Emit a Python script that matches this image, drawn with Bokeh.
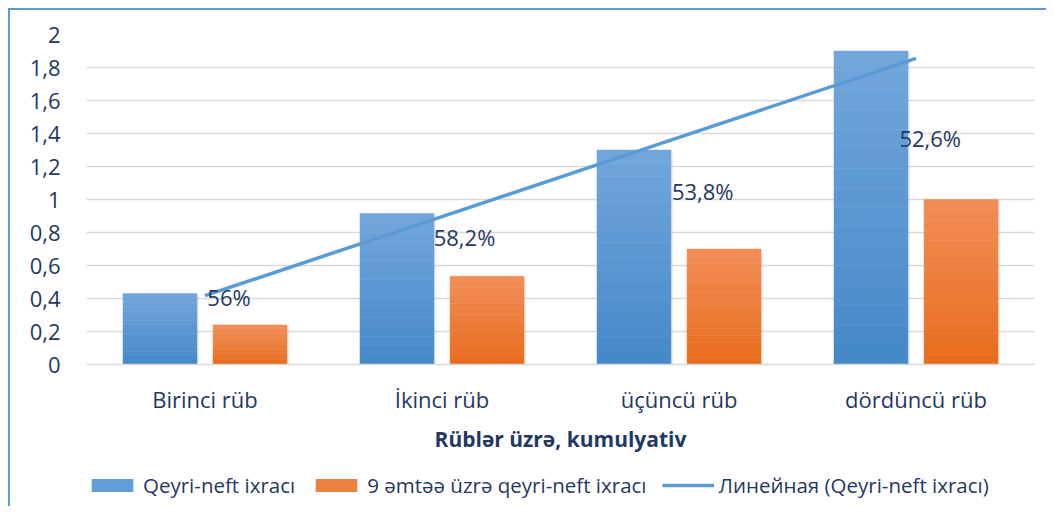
import numpy as np
from bokeh.plotting import figure
from bokeh.layouts import column
from bokeh.models import Range1d, FixedTicker, Legend, LegendItem, ColumnDataSource
from bokeh.core.properties import value
from bokeh.embed import file_html
from bokeh.resources import INLINE

categories = ["Birinci rüb", "İkinci rüb", "üçüncü rüb", "dördüncü rüb"]
qeyri_neft = [0.43, 0.915, 1.30, 1.90]
emtee9 = [0.24, 0.535, 0.70, 1.00]
share_labels = ["56%", "58,2%", "53,8%", "52,6%"]
label_y = [0.41, 0.77, 1.05, 1.37]
label_dx = [0.01, -0.035, -0.03, -0.07]
y_ticks = [0, 0.2, 0.4, 0.6, 0.8, 1.0, 1.2, 1.4, 1.6, 1.8, 2.0]
y_tick_labels = ["0", "0,2", "0,4", "0,6", "0,8", "1", "1,2", "1,4", "1,6", "1,8", "2"]
series_names = ["Qeyri-neft ixracı", "9 əmtəə üzrə qeyri-neft ixracı", "Линейная (Qeyri-neft ixracı)"]
axis_title = "Rüblər üzrə, kumulyativ"

FONT = "Open Sans"
TXT = "#1F3864"
BLUE = "#5B9BD5"
ORANGE = "#ED7D31"

p = figure(width=1036, height=450, output_backend="svg", toolbar_location=None,
           x_range=Range1d(0, 4), y_range=Range1d(0, 2),
           min_border_left=76, min_border_right=12, min_border_top=24, min_border_bottom=96)
p.outline_line_color = None
p.background_fill_color = "white"
p.border_fill_color = "white"

xc = np.arange(len(categories)) + 0.5

def interp(c1, c2, t):
    a = [int(c1[i:i + 2], 16) for i in (1, 3, 5)]
    b = [int(c2[i:i + 2], 16) for i in (1, 3, 5)]
    return "#%02x%02x%02x" % tuple(int(round(a[k] + (b[k] - a[k]) * t)) for k in range(3))

N = 16
width = 0.312
def gradient_bars(vals, offset, ctop, cbot):
    rends = []
    vals = np.array(vals)
    for i in range(N):
        src = ColumnDataSource(dict(x=xc + offset, bottom=vals * i / N, top=vals * (i + 1) / N))
        col = interp(cbot, ctop, (i + 0.5) / N)
        r = p.vbar(x="x", bottom="bottom", top="top", width=width, source=src,
                   fill_color=col, line_color=col, line_width=0.5)
        rends.append(r)
    return rends

# subtle shadows
for vals, off in ((qeyri_neft, -0.19), (emtee9, 0.19)):
    p.vbar(x=xc + off + 0.008, top=np.array(vals) - 0.006, bottom=0, width=width,
           fill_color="#bfbfbf", fill_alpha=0.35, line_color=None)

blue = gradient_bars(qeyri_neft, -0.19, "#72A7DC", "#4588C8")
orange = gradient_bars(emtee9, 0.19, "#F18D57", "#E86D1D")

coef = np.polyfit(np.arange(1, 5), qeyri_neft, 1)
trend = np.polyval(coef, np.arange(1, 5))
tl = p.line(xc, trend, line_color=BLUE, line_width=3.5)

p.text(x=xc + np.array(label_dx), y=label_y, text=share_labels, text_font=value(FONT),
       text_font_size="22px", text_color=TXT, text_align="left", text_baseline="middle")

p.xaxis.ticker = FixedTicker(ticks=list(xc))
p.xaxis.major_label_overrides = {float(x): c for x, c in zip(xc, categories)}
p.yaxis.ticker = FixedTicker(ticks=y_ticks)
p.yaxis.major_label_overrides = {t: l for t, l in zip(y_ticks, y_tick_labels)}
p.xgrid.visible = False
p.ygrid.ticker = FixedTicker(ticks=y_ticks)
p.ygrid.grid_line_color = "#D9D9D9"
p.ygrid.grid_line_width = 1.5

for ax in (p.xaxis, p.yaxis):
    ax.major_tick_line_color = None
    ax.minor_tick_line_color = None
    ax.major_label_text_font = FONT
    ax.major_label_text_color = TXT
    ax.major_label_text_font_size = "22px"
p.yaxis.axis_line_color = None
p.yaxis.major_label_standoff = 20
p.xaxis.axis_line_color = "#D9D9D9"
p.xaxis.axis_line_width = 1.5
p.xaxis.major_label_standoff = 13
p.xaxis.axis_label = axis_title
p.xaxis.axis_label_text_font = FONT
p.xaxis.axis_label_text_font_style = "bold"
p.xaxis.axis_label_text_font_size = "21px"
p.xaxis.axis_label_text_color = TXT
p.xaxis.axis_label_standoff = 8

# legend strip (its frame is aligned with the main frame by the column layout)
lg = figure(width=1036, height=46, output_backend="svg", toolbar_location=None,
            x_range=Range1d(0, 1), y_range=Range1d(0, 1), min_border=0)
lg.axis.visible = False
lg.grid.visible = False
lg.outline_line_color = None
lg.border_fill_color = "white"
r1 = lg.vbar(x=[5], top=[-5], bottom=[-6], width=0.1, fill_color="#629FD8", line_color=None)
r2 = lg.vbar(x=[5], top=[-5], bottom=[-6], width=0.1, fill_color="#EE8040", line_color=None)
r3 = lg.line(x=[5, 6], y=[-5, -5], line_color=BLUE, line_width=3.5)
legend = Legend(items=[LegendItem(label=series_names[0], renderers=[r1]),
                       LegendItem(label=series_names[1], renderers=[r2]),
                       LegendItem(label=series_names[2], renderers=[r3])],
                orientation="horizontal", location=(0, 7),
                glyph_width=52, glyph_height=16, label_standoff=5, spacing=15,
                label_text_font=FONT, label_text_font_size="20.5px", label_text_color=TXT,
                border_line_color=None, background_fill_alpha=0, margin=0, padding=0)
lg.add_layout(legend, "center")

layout = column(p, lg, spacing=0)
layout.styles = {"border-left": "2px solid #5B9BD5", "border-top": "2px solid #5B9BD5",
                 "margin-left": "8px", "margin-top": "8px"}

open("out.html", "w").write(file_html(layout, INLINE))
